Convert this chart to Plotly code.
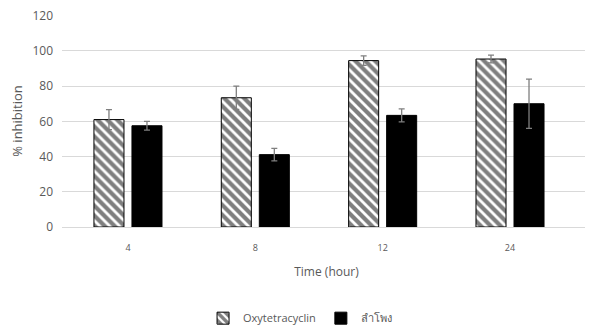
import plotly.graph_objects as go

categories = ["4", "8", "12", "24"]
otc_values = [61.0, 73.4, 94.5, 95.4]
otc_errors = [5.7, 6.6, 2.7, 2.2]
herb_values = [57.5, 41.1, 63.4, 70.0]
herb_errors = [2.5, 3.5, 3.7, 14.0]
series_names = ["Oxytetracyclin", "ลำโพง"]
y_ticks = [0, 20, 40, 60, 80, 100, 120]

x_pos = list(range(len(categories)))
grey = "#595959"
err_col = "#7f7f7f"
font_family = "Open Sans, Noto Sans, DejaVu Sans, sans-serif"

fig = go.Figure()
fig.add_trace(go.Bar(
    x=x_pos, y=otc_values, name=series_names[0],
    marker=dict(color="white", line=dict(color="black", width=1),
                pattern=dict(shape="\\", fgcolor="black", bgcolor="white", size=7, solidity=0.6)),
    error_y=dict(type="data", array=otc_errors, color=err_col, thickness=1.3, width=3),
))
fig.add_trace(go.Bar(
    x=x_pos, y=herb_values, name=series_names[1],
    marker=dict(color="black", line=dict(color="black", width=1)),
    error_y=dict(type="data", array=herb_errors, color=err_col, thickness=1.3, width=3),
))

# page body has an 8px default margin, so the figure is offset by 8px
fig.update_layout(
    width=585, height=321,
    margin=dict(l=54, r=2, t=7, b=102, autoexpand=False),
    paper_bgcolor="white", plot_bgcolor="white",
    barmode="group", bargap=0.403, bargroupgap=0.21,
    font=dict(family=font_family, color=grey),
    showlegend=True,
    legend=dict(orientation="h", x=0.45, xanchor="center", y=-0.43, yanchor="middle",
                font=dict(size=11, color=grey), itemwidth=30, traceorder="normal"),
    xaxis=dict(
        tickmode="array", tickvals=x_pos, ticktext=categories, automargin=False,
        range=[-0.518, 3.636], showgrid=False, zeroline=False,
        showline=True, linecolor="#d9d9d9", linewidth=1,
        ticks="", tickfont=dict(size=9, color=grey), ticklabelstandoff=12,
        title=dict(text="Time (hour)", font=dict(size=12, color=grey), standoff=14),
    ),
    yaxis=dict(
        range=[0, 120.4], tickmode="array", tickvals=y_ticks, automargin=False,
        showgrid=True, gridcolor="#d9d9d9", gridwidth=1, zeroline=False,
        ticks="", tickfont=dict(size=12, color=grey), ticklabelstandoff=8,
        ticklabeloverflow="allow",
        title=dict(text="% inhibition", font=dict(size=13, color=grey), standoff=10),
    ),
)

fig.write_html("out.html")
